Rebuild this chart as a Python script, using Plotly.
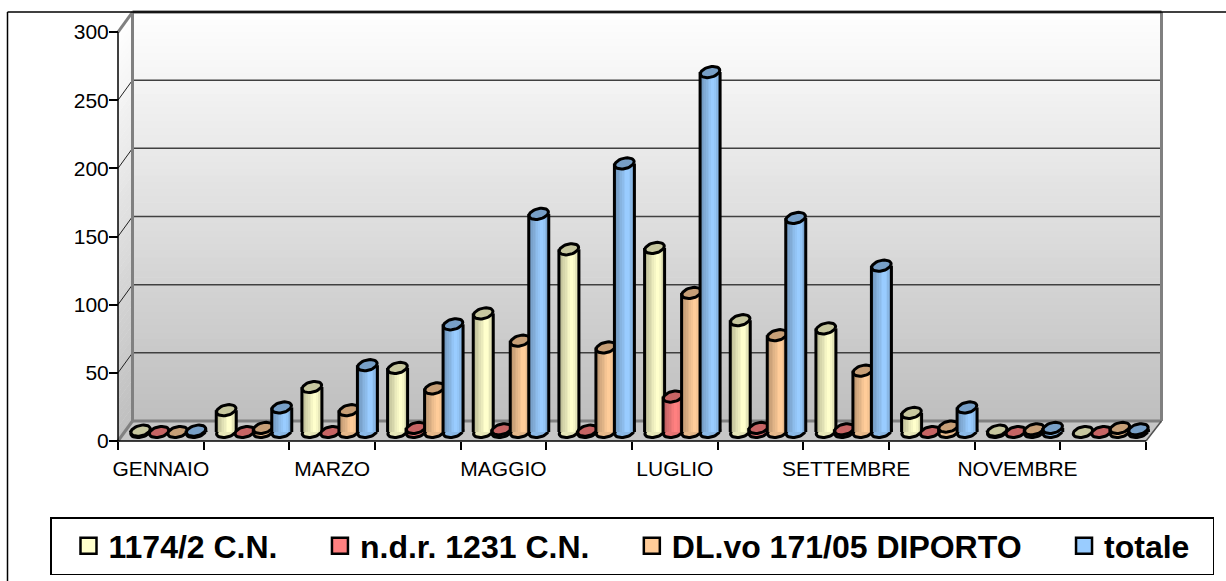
import numpy as np
import plotly.graph_objects as go

months = ["GENNAIO", "FEBBRAIO", "MARZO", "APRILE", "MAGGIO", "GIUGNO", "LUGLIO",
          "AGOSTO", "SETTEMBRE", "OTTOBRE", "NOVEMBRE", "DICEMBRE"]
cn_1174 = [1, 16, 33, 47, 87, 134, 135, 82, 76, 14, 1, 0]
ndr_1231 = [0, 0, 0, 3, 2, 1, 26, 3, 2, 0, 0, 0]
diporto = [0, 3, 16, 32, 67, 62, 102, 71, 45, 4, 2, 3]
totale = [1, 18, 49, 79, 160, 197, 264, 157, 122, 18, 3, 2]
series_names = ["1174/2 C.N.", "n.d.r. 1231 C.N.", "DL.vo 171/05 DIPORTO", "totale"]
series_values = [cn_1174, ndr_1231, diporto, totale]
series_colors = [(255, 255, 204), (255, 128, 128), (255, 204, 153), (153, 204, 255)]
y_ticks = [0, 50, 100, 150, 200, 250, 300]

W, H = 1226, 581
X0, PXM = 118.0, 85.667
Y0, PXV = 441.0, 1.3633
dx_px = lambda p: p / PXM
dy_px = lambda p: p / PXV
DX_L, DX_R, DY = dx_px(14.5), dx_px(15.5), dy_px(20)
GREY = "#808080"


def rgb(c, f=1.0):
    return "rgb(%d,%d,%d)" % tuple(min(255, round(v * f)) for v in c)


def poly(pts, color):
    path = "M" + " L".join(f"{x:.4f},{y:.3f}" for x, y in pts) + " Z"
    return dict(type="path", path=path, xref="x", yref="y", layer="below",
                fillcolor=color, line=dict(width=0))


def seg(x0, y0, x1, y1, color, width):
    return dict(type="line", xref="x", yref="y", layer="below", x0=x0, y0=y0, x1=x1, y1=y1,
                line=dict(color=color, width=width))


shapes = []
# back wall and side wall gradient
N = 60
for k in range(N):
    v0, v1 = 300 * k / N, 300 * (k + 1) / N + 0.5
    g = 190 + 65 * (k + 0.5) / N
    col = rgb((g, g, g))
    shapes.append(poly([(DX_L, v0 + DY), (12 + DX_R, v0 + DY), (12 + DX_R, v1 + DY), (DX_L, v1 + DY)], col))
    shapes.append(poly([(0, v0), (DX_L, v0 + DY), (DX_L, v1 + DY), (0, v1)], col))
# floor
shapes.append(poly([(0, 0), (12, 0), (12 + DX_R, DY), (DX_L, DY)], "#c6c6c6"))
# grid lines and side ticks
for v in y_ticks[1:-1]:
    shapes.append(seg(DX_L, v + DY, 12 + DX_R, v + DY, "#404040", 1.5))
    shapes.append(seg(0, v, DX_L, v + DY, "#202020", 1))
# wall frame
shapes.append(seg(DX_L, DY, DX_L, 300 + DY, GREY, 3))
shapes.append(seg(12 + DX_R, DY, 12 + DX_R, 300 + DY, GREY, 3))
shapes.append(seg(DX_L, DY, 12 + DX_R, DY, GREY, 3))
shapes.append(seg(DX_L, 300 + DY, 12 + DX_R, 300 + DY, "#555555", 3))
shapes.append(seg(0, 0, DX_L, DY, GREY, 3))
shapes.append(seg(0, 300, DX_L, 300 + DY, GREY, 3))
shapes.append(seg(12, 0, 12 + DX_R, DY, "#505050", 1.5))
# front axes
shapes.append(seg(0, 0, 0, 300, "#000000", 1.5))
shapes.append(seg(0, 0, 12, 0, "#000000", 1.5))
# outer chart frame
shapes.append(dict(type="line", xref="paper", yref="paper", x0=7.5 / W, x1=1, y0=1 - 12 / H, y1=1 - 12 / H,
                   line=dict(color="#000000", width=1.5)))
shapes.append(dict(type="line", xref="paper", yref="paper", x0=7.5 / W, x1=7.5 / W, y0=0, y1=1 - 12 / H,
                   line=dict(color="#000000", width=1.5)))

BASE = dy_px(9)
SPACING = dx_px(18.5)
HALF = dx_px(10)
STRIP_F = [.72, .76, .80, .84, .88, .92, .96, 1.0, 1.0, .97, .90, .82]
t = np.linspace(0, 2 * np.pi, 37)
ex = dx_px(9.2) * np.cos(t) + dx_px(3) * np.sin(t)
ey = dy_px(5.6) * np.sin(t)


def ellipses(xs, ys):
    ax, ay = [], []
    for x, y in zip(xs, ys):
        ax += list(x + ex) + [None]
        ay += list(y + ey) + [None]
    return ax, ay


fig = go.Figure()
for s, (name, vals, col) in enumerate(zip(series_names, series_values, series_colors)):
    vals = np.array(vals, float)
    cx = np.arange(12) + 0.5 + (DX_L + DX_R) / 4 + (s - 1.5) * SPACING
    z = s * 3 + 1
    # bottom rim
    bx, by = ellipses(cx[vals > 0], np.full((vals > 0).sum(), BASE))
    fig.add_trace(go.Scatter(x=bx, y=by, mode="lines", fill="toself", fillcolor=rgb(col, .9),
                             line=dict(color="#000000", width=3), showlegend=False,
                             hoverinfo="skip", zorder=z))
    # cylinder body as strips
    sw = 2 * HALF / len(STRIP_F)
    for j, f in enumerate(STRIP_F):
        fig.add_trace(go.Bar(x=cx - HALF + (j + 0.5) * sw, y=vals, base=BASE, width=sw * 1.15,
                             marker=dict(color=rgb(col, f), line=dict(width=0)),
                             showlegend=False, name=name, zorder=z + 1))
    # side outlines
    lx, ly = [], []
    for x, v in zip(cx, vals):
        if v > 0:
            lx += [x - HALF, x - HALF, None, x + HALF, x + HALF, None]
            ly += [BASE, BASE + v, None, BASE, BASE + v, None]
    fig.add_trace(go.Scatter(x=lx, y=ly, mode="lines", line=dict(color="#000000", width=3),
                             showlegend=False, hoverinfo="skip", zorder=z + 2))
    # top cap
    tx, ty = ellipses(cx, BASE + vals)
    fig.add_trace(go.Scatter(x=tx, y=ty, mode="lines", fill="toself", fillcolor=rgb(col, .78),
                             line=dict(color="#000000", width=3), showlegend=False,
                             hoverinfo="skip", zorder=z + 2))
    # legend entry
    pad = ["\u00a0" * 2 + "\u200a", "\u00a0" * 2 + "\u200a", "\u00a0" * 2 + "\u200a", "\u00a0" * 2][s]
    fig.add_trace(go.Scatter(x=[None], y=[None], mode="markers", name=name + pad,
                             marker=dict(symbol="square", size=16, color=rgb(col),
                                         line=dict(color="#000000", width=2.5)),
                             showlegend=True, zorder=z + 2))

FONT = "Liberation Sans, Arial, sans-serif"
fig.update_layout(
    width=W, height=H, autosize=False, margin=dict(l=0, r=0, t=0, b=0),
    paper_bgcolor="#ffffff", plot_bgcolor="#ffffff", barmode="overlay", bargap=0,
    font=dict(family=FONT, color="#000000"), shapes=shapes,
    xaxis=dict(domain=[0, 1], range=[-X0 / PXM, (W - X0) / PXM], anchor="free", position=1 - Y0 / H,
               showgrid=False, zeroline=False, showline=False,
               tickmode="array", tickvals=[i + 0.5 for i in range(0, 12, 2)], ticktext=months[::2],
               ticks="", ticklen=0, ticklabelstandoff=13, tickfont=dict(size=21, family=FONT), tickangle=0,
               minor=dict(tickmode="array", tickvals=list(range(13)), ticks="outside", ticklen=8,
                          tickcolor="#000000", tickwidth=1.5, showgrid=False)),
    yaxis=dict(domain=[0, 1], range=[(Y0 - H) / PXV, Y0 / PXV], anchor="free", position=X0 / W,
               showgrid=False, zeroline=False, showline=False,
               tickmode="array", tickvals=y_ticks, ticks="outside", ticklen=9, tickwidth=1.5,
               ticklabelstandoff=-4, tickcolor="#000000", tickfont=dict(size=21, family=FONT)),
    legend=dict(orientation="h", x=50 / W, y=1 - 517 / H, xanchor="left", yanchor="top",
                bgcolor="#ffffff", bordercolor="#000000", borderwidth=1.5, indentation=17,
                font=dict(size=32, family=FONT, weight="bold"), itemsizing="trace",
                tracegroupgap=0),
    hovermode=False,
)
fig.write_html("out.html", config={"displayModeBar": False},
               post_script="document.body.style.margin='0';document.body.style.overflow='hidden';")
